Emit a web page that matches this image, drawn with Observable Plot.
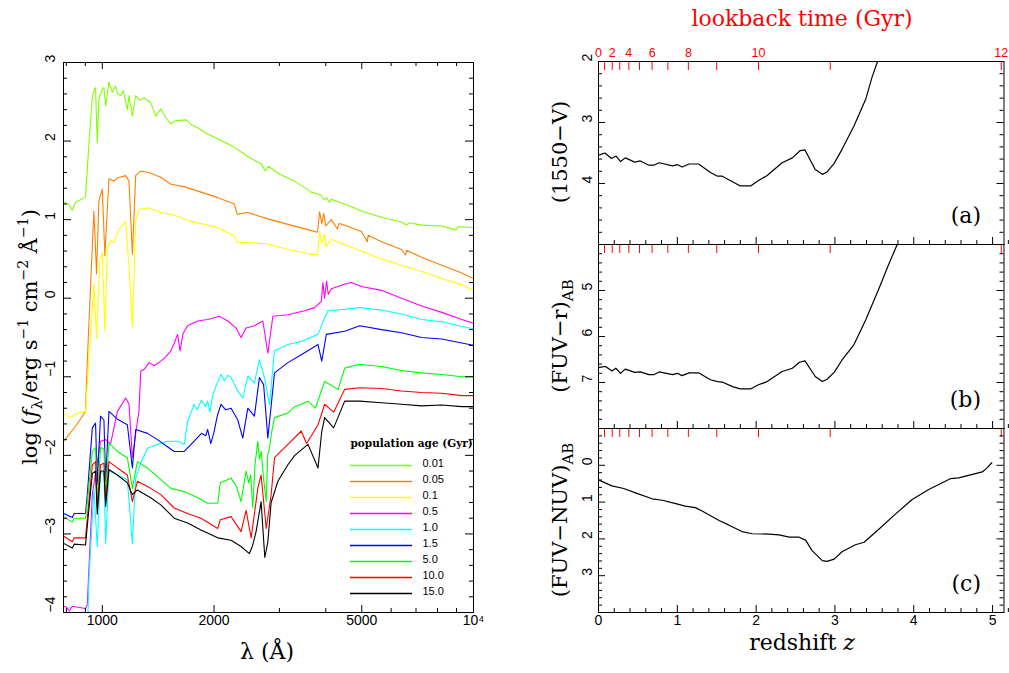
<!DOCTYPE html>
<html><head><meta charset="utf-8">
<script src="https://cdn.jsdelivr.net/npm/d3@7"></script>
<script src="https://cdn.jsdelivr.net/npm/@observablehq/plot@0.6"></script>
<style>
body{margin:0;background:#fff;}
#c{position:relative;width:1009px;height:673px;overflow:hidden;}
#c svg{position:absolute;left:0;top:0;max-width:none;}
</style></head><body><div id="c"></div>
<script>
// ---------- data ----------
const ages = ["0.01","0.05","0.1","0.5","1.0","1.5","5.0","10.0","15.0"];
const ageColors = ["#80ff00","#ff8000","#ffff00","#ff00ff","#00ffff","#0000ff","#00ff00","#ff0000","#000000"];

// [wavelength (Å), log f_lambda]
const sp_001 = [[787,1.22],[810,1.2],[830,1.12],[847,1.22],[880,1.26],[901,1.29],[920,1.96],[940,2.55],[949,2.64],[959,2.68],[969,1.98],[979,2.54],[1000,2.66],[1010,2.68],[1021,2.45],[1042,2.75],[1064,2.62],[1085,2.70],[1100,2.6],[1121,2.58],[1140,2.64],[1168,2.40],[1180,2.58],[1205,2.32],[1230,2.58],[1260,2.52],[1296,2.55],[1350,2.49],[1393,2.32],[1437,2.41],[1480,2.3],[1530,2.22],[1578,2.26],[1680,2.27],[1750,2.2],[1806,2.17],[1922,2.09],[2046,2.03],[2150,1.98],[2269,1.92],[2490,1.79],[2678,1.71],[2750,1.62],[2800,1.68],[3000,1.58],[3296,1.49],[3656,1.35],[3890,1.31],[3960,1.25],[4014,1.28],[4100,1.22],[4140,1.26],[4498,1.2],[4990,1.11],[5651,1.03],[6401,0.97],[6600,0.93],[6700,0.96],[7250,0.93],[8212,0.92],[8960,0.87],[9100,0.91],[10000,0.9]];
const sp_005 = [[787,-1.82],[850,-1.62],[901,-1.44],[911,-0.8],[949,1.11],[965,0.31],[979,1.24],[1000,1.39],[1016,0.54],[1042,1.52],[1075,1.49],[1098,1.53],[1156,1.56],[1180,1.49],[1205,0.56],[1230,1.56],[1269,1.62],[1336,1.60],[1437,1.54],[1530,1.45],[1662,1.42],[1844,1.35],[2046,1.28],[2269,1.20],[2307,1.07],[2466,1.09],[2792,1.01],[3162,0.94],[3656,0.86],[3800,0.84],[3850,1.1],[3900,0.95],[3950,1.08],[4000,0.92],[4140,1.0],[4300,0.88],[4340,0.95],[4498,0.93],[4990,0.85],[5175,0.72],[5200,0.8],[5651,0.72],[6401,0.62],[6563,0.55],[6600,0.61],[7250,0.52],[8212,0.42],[9300,0.32],[10000,0.25]];
const sp_01 = [[787,-1.47],[821,-1.52],[850,-1.47],[901,-1.44],[920,-0.8],[949,0.18],[965,-0.51],[985,0.47],[1000,0.58],[1016,-0.42],[1032,0.64],[1053,0.73],[1075,0.71],[1109,0.88],[1156,0.98],[1180,0.39],[1205,-0.38],[1230,0.98],[1256,1.13],[1336,1.15],[1437,1.09],[1562,1.06],[1697,0.99],[1883,0.94],[2046,0.9],[2269,0.79],[2307,0.71],[2466,0.71],[2792,0.69],[3162,0.62],[3656,0.56],[3800,0.55],[3850,0.85],[3900,0.7],[3970,0.82],[4000,0.66],[4140,0.75],[4498,0.68],[4990,0.6],[5651,0.5],[6401,0.42],[7250,0.34],[8212,0.25],[9300,0.17],[10000,0.1]];
const sp_05 = [[787,-3.92],[800,-3.93],[815,-3.98],[830,-3.92],[901,-3.95],[911,-3.9],[940,-2.5],[989,-1.82],[1021,-1.8],[1053,-1.85],[1098,-1.44],[1156,-1.27],[1180,-1.35],[1205,-2.03],[1256,-1.42],[1269,-0.93],[1300,-0.9],[1336,-0.82],[1380,-0.86],[1437,-0.8],[1480,-0.75],[1530,-0.67],[1560,-0.58],[1595,-0.46],[1620,-0.67],[1650,-0.45],[1697,-0.35],[1806,-0.29],[1922,-0.27],[2067,-0.23],[2177,-0.29],[2293,-0.38],[2365,-0.5],[2440,-0.38],[2569,-0.35],[2707,-0.29],[2792,-0.70],[2881,-0.23],[3162,-0.21],[3507,-0.16],[3732,-0.12],[3890,-0.04],[3930,0.2],[3970,0.0],[4020,0.22],[4060,0.05],[4140,0.12],[4317,0.15],[4498,0.18],[4690,0.2],[4990,0.15],[5651,0.1],[6401,0.0],[7250,-0.1],[8212,-0.18],[9300,-0.27],[10000,-0.32]];
const sp_10 = [[787,-4.3],[911,-4.3],[920,-3.6],[949,-2.42],[969,-3.16],[989,-2.2],[1010,-2.25],[1021,-3.12],[1042,-2.2],[1121,-2.27],[1168,-2.31],[1205,-3.12],[1230,-2.29],[1269,-2.10],[1323,-1.91],[1408,-1.86],[1498,-1.82],[1600,-1.82],[1662,-1.86],[1697,-1.57],[1720,-1.5],[1768,-1.35],[1800,-1.42],[1850,-1.3],[1900,-1.38],[1922,-1.31],[1950,-1.45],[1980,-1.25],[2030,-1.1],[2088,-0.97],[2130,-1.05],[2180,-0.98],[2223,-1.01],[2317,-1.18],[2390,-1.27],[2466,-0.99],[2569,-1.08],[2650,-0.78],[2734,-1.01],[2821,-1.35],[2910,-0.67],[3162,-0.59],[3435,-0.55],[3812,-0.46],[3972,-0.25],[4057,-0.16],[4498,-0.14],[4937,-0.12],[5651,-0.15],[6401,-0.2],[7250,-0.27],[8212,-0.3],[9300,-0.36],[10000,-0.39]];
const sp_15 = [[787,-2.74],[830,-2.79],[840,-2.74],[901,-2.74],[911,-2.5],[940,-1.65],[959,-1.59],[969,-2.37],[989,-1.50],[1010,-1.55],[1021,-2.33],[1042,-1.44],[1098,-1.54],[1168,-1.61],[1205,-2.16],[1230,-1.67],[1323,-1.72],[1408,-1.80],[1498,-1.89],[1562,-1.95],[1662,-1.95],[1768,-1.82],[1800,-1.78],[1850,-1.72],[1900,-1.75],[1922,-1.67],[1960,-1.85],[2000,-1.7],[2040,-1.5],[2088,-1.35],[2150,-1.42],[2223,-1.40],[2317,-1.55],[2390,-1.78],[2466,-1.40],[2569,-1.50],[2650,-1.01],[2720,-1.1],[2792,-1.78],[2910,-0.95],[3162,-0.82],[3435,-0.72],[3812,-0.59],[3900,-0.8],[4014,-0.46],[4498,-0.42],[4937,-0.35],[5651,-0.4],[6401,-0.44],[7250,-0.5],[8212,-0.52],[9300,-0.57],[10000,-0.6]];
const sp_50 = [[787,-2.78],[830,-2.85],[840,-2.8],[901,-2.8],[911,-2.6],[940,-1.95],[959,-1.9],[969,-2.59],[989,-1.9],[1010,-1.92],[1021,-2.55],[1042,-1.84],[1098,-1.95],[1168,-2.03],[1205,-2.42],[1243,-2.08],[1323,-2.16],[1408,-2.27],[1530,-2.42],[1662,-2.46],[1806,-2.54],[1922,-2.61],[2046,-2.61],[2079,-2.35],[2223,-2.29],[2300,-2.4],[2365,-2.59],[2440,-2.2],[2480,-2.35],[2510,-2.25],[2543,-2.67],[2580,-2.1],[2624,-1.82],[2650,-2.05],[2680,-1.95],[2720,-2.3],[2764,-2.59],[2790,-2.0],[2821,-1.9],[2860,-1.7],[2910,-1.52],[3162,-1.46],[3300,-1.38],[3582,-1.31],[3750,-1.4],[3972,-1.06],[4317,-1.16],[4498,-0.89],[4937,-0.84],[5651,-0.87],[6401,-0.92],[7250,-0.95],[8212,-0.97],[9300,-1.0],[10000,-1.0]];
const sp_100 = [[787,-3.03],[830,-3.1],[840,-3.05],[901,-3.05],[911,-2.8],[940,-2.12],[959,-2.08],[969,-2.67],[989,-2.12],[1010,-2.1],[1021,-2.6],[1042,-2.08],[1098,-2.16],[1168,-2.25],[1205,-2.59],[1243,-2.33],[1350,-2.42],[1437,-2.50],[1562,-2.67],[1697,-2.74],[1844,-2.80],[2046,-2.93],[2079,-2.82],[2223,-2.78],[2365,-2.97],[2440,-2.7],[2517,-3.05],[2624,-2.42],[2678,-2.25],[2764,-2.93],[2850,-2.5],[2910,-2.03],[3162,-1.86],[3435,-1.69],[3550,-1.85],[3812,-1.61],[3972,-1.35],[4200,-1.45],[4498,-1.16],[4937,-1.14],[5651,-1.15],[6401,-1.18],[7250,-1.2],[8212,-1.21],[9300,-1.24],[10000,-1.24]];
const sp_150 = [[787,-3.12],[830,-3.18],[840,-3.13],[901,-3.14],[911,-2.9],[940,-2.23],[959,-2.2],[969,-2.75],[989,-2.2],[1010,-2.2],[1021,-2.65],[1042,-2.18],[1098,-2.25],[1168,-2.35],[1205,-2.5],[1243,-2.44],[1350,-2.54],[1437,-2.63],[1562,-2.80],[1697,-2.86],[1844,-2.95],[2046,-3.05],[2223,-3.08],[2365,-3.16],[2490,-3.25],[2540,-3.15],[2596,-2.97],[2678,-2.59],[2740,-3.3],[2792,-3.10],[2850,-2.6],[2972,-2.33],[3162,-2.12],[3300,-2.0],[3582,-1.86],[3812,-2.16],[3900,-1.7],[3972,-1.52],[4200,-1.65],[4498,-1.31],[4937,-1.31],[5651,-1.33],[6401,-1.35],[7250,-1.37],[8212,-1.36],[9300,-1.38],[10000,-1.38]];
const spectraList = [sp_001, sp_005, sp_01, sp_05, sp_10, sp_15, sp_50, sp_100, sp_150];

// left axis ticks
const lamMajor = [1000, 2000, 5000, 10000];
const lamMinor = [800, 900, 3000, 4000, 6000, 7000, 8000, 9000];
const lamLabels = ["1000", "2000", "5000", "10⁴"];
const logfMajor = [-4, -3, -2, -1, 0, 1, 2, 3];
const logfLabels = ["−4", "−3", "−2", "−1", "0", "1", "2", "3"];

// right panels: colour vs redshift
const zA = [0.013,0.08,0.165,0.224,0.28,0.34,0.46,0.53,0.64,0.70,0.77,0.94,1.00,1.06,1.15,1.27,1.42,1.51,1.57,1.70,1.80,1.93,2.03,2.14,2.33,2.46,2.56,2.62,2.75,2.84,2.90,2.99,3.09,3.24,3.39,3.47,3.54];
const vA = [3.53,3.50,3.59,3.55,3.64,3.58,3.65,3.63,3.70,3.70,3.66,3.71,3.69,3.73,3.68,3.68,3.82,3.88,3.88,3.97,4.04,4.04,3.95,3.87,3.66,3.58,3.46,3.45,3.77,3.85,3.81,3.67,3.44,3.06,2.62,2.26,2.0];
const zB = [0.013,0.09,0.17,0.22,0.28,0.34,0.46,0.53,0.64,0.70,0.77,0.94,1.00,1.06,1.15,1.27,1.42,1.51,1.57,1.70,1.80,1.93,2.03,2.14,2.33,2.46,2.55,2.62,2.75,2.84,2.90,2.99,3.09,3.24,3.39,3.56,3.68,3.79];
const vB = [6.67,6.65,6.75,6.69,6.80,6.71,6.78,6.77,6.83,6.83,6.77,6.83,6.80,6.85,6.79,6.79,6.94,6.98,6.99,7.09,7.14,7.14,7.05,6.98,6.76,6.69,6.56,6.53,6.87,6.98,6.93,6.78,6.51,6.18,5.64,4.95,4.44,4.0];
const zC = [0.013,0.17,0.32,0.47,0.68,0.81,0.98,1.10,1.23,1.32,1.53,1.65,1.82,1.95,2.16,2.29,2.42,2.54,2.63,2.71,2.84,2.90,2.99,3.09,3.26,3.37,3.56,3.77,3.98,4.19,4.47,4.57,4.87,4.93,4.99];
const vC = [0.41,0.56,0.63,0.75,0.91,0.95,1.04,1.11,1.15,1.25,1.50,1.62,1.80,1.86,1.87,1.89,1.95,1.95,2.04,2.32,2.59,2.61,2.55,2.35,2.16,2.09,1.73,1.32,0.93,0.66,0.36,0.34,0.18,0.07,-0.07];

const zMajor = [0, 1, 2, 3, 4, 5];
const zLabels = ["0", "1", "2", "3", "4", "5"];
// lookback time ticks (Gyr) and their redshifts
const ltGyr = [0,1,2,3,4,5,6,7,8,9,10,11,12];
const ltZ = [0,0.077,0.174,0.27,0.385,0.52,0.68,0.88,1.14,1.50,2.03,2.94,5.11];
const ltLabeled = ["0","","2","","4","","6","","8","","10","","12"];

// ---------- layout ----------
const W = 1009, H = 673;
const root = document.getElementById("c");
const sans = "'Liberation Sans', Arial, Helvetica, sans-serif";
const serif = "'DejaVu Serif', serif";
const baseStyle = {background: "transparent", fontFamily: sans, color: "black", overflow: "visible"};
const minorRange = (a, b) => d3.range(Math.round(a * 5), Math.round(b * 5) + 1).map(k => k / 5).filter(v => Math.abs(v - Math.round(v)) > 1e-6);

// ---------- left: spectra ----------
const L = {l: 63, r: 473, t: 62, b: 612};
const LW = L.r - L.l, LH = L.b - L.t;
const spectra = spectraList.flatMap((s, i) => s.map(([wl, f]) => ({age: ages[i], wl, f})));
const logfMinor = minorRange(-4, 3);

const leftPlot = Plot.plot({
  width: W, height: H,
  marginLeft: L.l, marginRight: W - L.r, marginTop: L.t, marginBottom: H - L.b,
  style: baseStyle,
  x: {type: "log", domain: [786, 10000], axis: null},
  y: {domain: [-4, 3], axis: null},
  color: {domain: ages, range: ageColors},
  marks: [
    Plot.line(spectra, {x: "wl", y: "f", z: "age", stroke: "age", strokeWidth: 1.1, clip: true}),
    Plot.tickX(lamMajor, {x: d => d, insetTop: LH - 7, stroke: "black"}),
    Plot.tickX(lamMajor, {x: d => d, insetBottom: LH - 7, stroke: "black"}),
    Plot.tickX(lamMinor, {x: d => d, insetTop: LH - 4, stroke: "black"}),
    Plot.tickX(lamMinor, {x: d => d, insetBottom: LH - 4, stroke: "black"}),
    Plot.tickY(logfMajor, {y: d => d, insetRight: LW - 8, stroke: "black"}),
    Plot.tickY(logfMajor, {y: d => d, insetLeft: LW - 8, stroke: "black"}),
    Plot.tickY(logfMinor, {y: d => d, insetRight: LW - 4, stroke: "black"}),
    Plot.tickY(logfMinor, {y: d => d, insetLeft: LW - 4, stroke: "black"}),
    Plot.text(lamMajor, {x: d => d, text: (d, i) => lamLabels[i], frameAnchor: "bottom", dy: 12, fontSize: 14, fill: "black"}),
    Plot.text(logfMajor, {y: d => d, text: (d, i) => logfLabels[i], frameAnchor: "left", dx: -13, rotate: -90, fontSize: 14, fill: "black"}),
    Plot.frame({stroke: "black"})
  ]
});
root.appendChild(leftPlot);

// legend
const legendPlot = Plot.plot({
  width: W, height: H,
  marginLeft: 350, marginRight: W - 412, marginTop: 463, marginBottom: H - 595,
  style: baseStyle,
  y: {type: "point", domain: ages, padding: 0, axis: null},
  color: {domain: ages, range: ageColors},
  marks: [
    Plot.ruleY(ages, {y: d => d, stroke: d => d, strokeWidth: 1.3}),
    Plot.text(ages, {y: d => d, text: d => d, frameAnchor: "right", dx: 10, dy: -2, textAnchor: "start", fontSize: 11, fill: "black"}),
    Plot.text(["population age (Gyr)"], {frameAnchor: "top-left", dy: -17, textAnchor: "start", lineAnchor: "bottom", fontSize: 10.5, fontWeight: "bold", fontFamily: serif, fill: "black"})
  ]
});
root.appendChild(legendPlot);

// ---------- right: three panels ----------
const R = {l: 598, r: 1003.5};
const RW = R.r - R.l;
function panel(zs, vs, ydom, top, bottom, yMajor, yLabels, letter, extra) {
  const PH = bottom - top;
  const data = zs.map((z, i) => ({z, v: vs[i]}));
  const yMinor = minorRange(ydom[0], ydom[1]);
  const zMinor = minorRange(0, 5.1);
  return Plot.plot({
    width: W, height: H,
    marginLeft: R.l, marginRight: W - R.r, marginTop: top, marginBottom: H - bottom,
    style: baseStyle,
    x: {domain: [0, 5.145], axis: null},
    y: {domain: ydom, reverse: true, axis: null},
    marks: [
      Plot.line(data, {x: "z", y: "v", stroke: "black", strokeWidth: 1.2, clip: true}),
      Plot.tickX(zMajor, {x: d => d, insetTop: PH - 7, stroke: "black"}),
      Plot.tickX(zMinor, {x: d => d, insetTop: PH - 4, stroke: "black"}),
      Plot.tickX(ltZ, {x: d => d, insetBottom: PH - 9, stroke: "red"}),
      Plot.tickY(yMajor, {y: d => d, insetRight: RW - 7, stroke: "black"}),
      Plot.tickY(yMajor, {y: d => d, insetLeft: RW - 7, stroke: "black"}),
      Plot.tickY(yMinor, {y: d => d, insetRight: RW - 4, stroke: "black"}),
      Plot.tickY(yMinor, {y: d => d, insetLeft: RW - 4, stroke: "black"}),
      Plot.text(yLabels, {y: d => d, text: d => String(d), frameAnchor: "left", dx: -11, rotate: -90, fontSize: 14, fill: "black"}),
      Plot.text([letter], {frameAnchor: "bottom-right", dx: -23, dy: -22, textAnchor: "end", fontSize: 22, fontFamily: serif, fill: "black"}),
      ...extra,
      Plot.frame({stroke: "black"})
    ]
  });
}
const topExtra = [
  Plot.text(ltZ, {x: d => d, text: (d, i) => ltLabeled[i], frameAnchor: "top", dy: -13, fontSize: 12.5, fill: "red"})
];
const bottomExtra = [
  Plot.text(zMajor, {x: d => d, text: (d, i) => zLabels[i], frameAnchor: "bottom", dy: 12, fontSize: 14, fill: "black"})
];
root.appendChild(panel(zA, vA, [2, 5], 61, 244, [2, 3, 4, 5], [2, 3, 4], "(a)", topExtra));
root.appendChild(panel(zB, vB, [4, 8], 244, 428, [4, 5, 6, 7, 8], [5, 6, 7], "(b)", []));
root.appendChild(panel(zC, vC, [-1, 4], 428, 612, [-1, 0, 1, 2, 3, 4], [0, 1, 2, 3], "(c)", bottomExtra));

// ---------- titles ----------
const ov = d3.create("svg").attr("width", W).attr("height", H)
  .attr("font-family", serif).attr("fill", "black");
ov.append("text").attr("x", 802).attr("y", 26).attr("text-anchor", "middle")
  .attr("font-size", 22).attr("fill", "red").text("lookback time (Gyr)");
const rz = ov.append("text").attr("x", 802).attr("y", 650).attr("text-anchor", "middle").attr("font-size", 22);
rz.append("tspan").text("redshift ");
rz.append("tspan").attr("font-style", "italic").text("z");
ov.append("text").attr("x", 267).attr("y", 659).attr("text-anchor", "middle").attr("font-size", 22).text("λ (Å)");

function rotated(x, y, size, parts) {
  const t = ov.append("text").attr("transform", `translate(${x},${y}) rotate(-90)`)
    .attr("text-anchor", "middle").attr("font-size", size);
  parts.forEach(p => {
    const s = t.append("tspan").text(p.t);
    if (p.dy) s.attr("dy", p.dy);
    if (p.fs) s.attr("font-size", p.fs);
    if (p.it) s.attr("font-style", "italic");
  });
}
rotated(37, 337, 21, [
  {t: "log ("}, {t: "f", it: true}, {t: "λ", dy: 5, fs: 15}, {t: "/erg s", dy: -5},
  {t: "−1", dy: -9, fs: 14}, {t: " cm", dy: 9}, {t: "−2", dy: -9, fs: 14},
  {t: " Å", dy: 9}, {t: "−1", dy: -9, fs: 14}, {t: ")", dy: 9}
]);
rotated(567, 152, 21, [{t: "(1550−V)"}]);
rotated(567, 336, 21, [{t: "(FUV−r)"}, {t: "AB", dy: 6, fs: 15}]);
rotated(567, 520, 21, [{t: "(FUV−NUV)"}, {t: "AB", dy: 6, fs: 15}]);
root.appendChild(ov.node());
</script></body></html>
